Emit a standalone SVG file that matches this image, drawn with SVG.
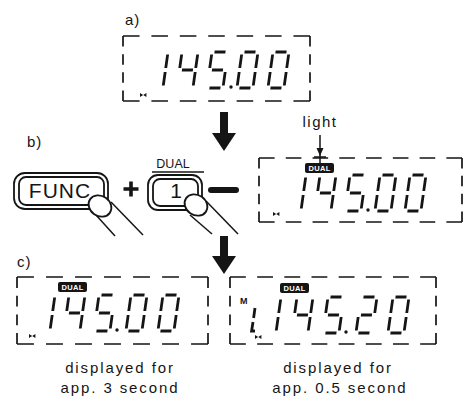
<svg xmlns="http://www.w3.org/2000/svg" xmlns:xlink="http://www.w3.org/1999/xlink" width="467" height="399" viewBox="0 0 467 399">
<style>
.bg{fill:#fff}
.dash{fill:none;stroke:#151515;stroke-width:1.7;stroke-dasharray:1.4 1}
.seg{fill:none;stroke:#151515;stroke-width:2.8;stroke-linecap:butt}
.lbl{font-family:"Liberation Sans",Arial,sans-serif;fill:#151515}
.btn{fill:#fff;stroke:#151515;stroke-width:1.8}
.badge{fill:#151515}
.badget{font-family:"Liberation Sans",Arial,sans-serif;font-size:7.5px;font-weight:bold;fill:#fff;text-anchor:middle;letter-spacing:0.3px}
.ink{fill:#151515}
.ln{stroke:#151515;stroke-width:1.5;fill:none}
.plus{stroke:#151515;stroke-width:3.6;fill:none}
</style>
<defs>
<path id="d0" class="seg" d="M2.5,0H13.5M16,2.5V16M16,20V33.5M2.5,36H13.5M0,20V33.5M0,2.5V16"/>
<path id="d1" class="seg" d="M16,2.5V16M16,20V33.5"/>
<path id="d2" class="seg" d="M2.5,0H13.5M16,2.5V16M2.5,18H13.5M0,20V33.5M2.5,36H13.5"/>
<path id="d4" class="seg" d="M0,2.5V16M2.5,18H13.5M16,2.5V16M16,20V33.5"/>
<path id="d5" class="seg" d="M2.5,0H13.5M0,2.5V16M2.5,18H13.5M16,20V33.5M2.5,36H13.5"/>
<path id="ico" class="ink" d="M0,0L0,4L3.2,2ZM6.4,0L6.4,4L3.2,2Z"/>
</defs>
<rect class="bg" x="0" y="0" width="467" height="399"/>

<text class="lbl" x="125" y="25" font-size="15" letter-spacing="1">a)</text>
<text class="lbl" x="27" y="147" font-size="15" letter-spacing="1">b)</text>
<text class="lbl" x="17" y="267" font-size="15" letter-spacing="1">c)</text>

<g id="display-a">
<path class="dash" pathLength="15.8" d="M123,36H310"/>
<path class="dash" pathLength="15.8" d="M123,101H310"/>
<path class="dash" pathLength="8.6" d="M123,36V101"/>
<path class="dash" pathLength="8.6" d="M310,36V101"/>
<use xlink:href="#d1" transform="translate(152,52) skewX(-8)"/>
<use xlink:href="#d4" transform="translate(182,52) skewX(-8)"/>
<use xlink:href="#d5" transform="translate(212,52) skewX(-8)"/>
<circle class="ink" cx="231" cy="87" r="1.7"/>
<use xlink:href="#d0" transform="translate(242,52) skewX(-8)"/>
<use xlink:href="#d0" transform="translate(273,52) skewX(-8)"/>
<use xlink:href="#ico" x="140" y="93"/>
</g>

<g id="btn-func">
<rect class="btn" x="14" y="173" width="94" height="36" rx="11"/>
<rect class="btn" x="19" y="177" width="85" height="28" rx="7"/>
<text class="lbl" x="60" y="198" font-size="21" text-anchor="middle" letter-spacing="1">FUNC</text>
<line class="ln" x1="96" y1="215" x2="115" y2="236"/>
<line class="ln" x1="111" y1="202" x2="143" y2="235"/>
<ellipse class="btn" cx="100" cy="206" rx="12" ry="10" transform="rotate(35 100 206)"/>
</g>

<g id="btn-1">
<text class="lbl" x="173" y="168" font-size="12.5" text-anchor="middle">DUAL</text>
<line class="ln" x1="152" y1="172" x2="204" y2="172"/>
<rect class="btn" x="148" y="175" width="54" height="35" rx="10"/>
<rect class="btn" x="153" y="179" width="45" height="27" rx="7"/>
<text class="lbl" x="176" y="198" font-size="21" text-anchor="middle">1</text>
<line class="ln" x1="190" y1="215" x2="212" y2="234"/>
<line class="ln" x1="206" y1="201" x2="238" y2="234"/>
<ellipse class="btn" cx="196" cy="205" rx="12" ry="10" transform="rotate(35 196 205)"/>
</g>

<g id="display-b">
<path class="dash" pathLength="18.2" d="M259,158H462"/>
<path class="dash" pathLength="18.2" d="M259,222H462"/>
<path class="dash" pathLength="8.6" d="M259,158V222"/>
<path class="dash" pathLength="8.6" d="M462,158V222"/>
<rect class="badge" x="305" y="163" width="29" height="10" rx="2"/>
<text class="badget" x="319.5" y="171">DUAL</text>
<use xlink:href="#d1" transform="translate(290,175) skewX(-8)"/>
<use xlink:href="#d4" transform="translate(320,175) skewX(-8)"/>
<use xlink:href="#d5" transform="translate(350,175) skewX(-8)"/>
<circle class="ink" cx="368" cy="210" r="1.7"/>
<use xlink:href="#d0" transform="translate(380,175) skewX(-8)"/>
<use xlink:href="#d0" transform="translate(410,175) skewX(-8)"/>
<use xlink:href="#ico" x="273" y="212"/>
</g>

<g id="light">
<text class="lbl" x="320" y="127" font-size="15" text-anchor="middle" letter-spacing="1.5">light</text>
</g>

<g id="display-c1">
<path class="dash" pathLength="15.8" d="M17,277H208"/>
<path class="dash" pathLength="15.8" d="M17,344H208"/>
<path class="dash" pathLength="8.6" d="M17,277V344"/>
<path class="dash" pathLength="8.6" d="M208,277V344"/>
<rect class="badge" x="58" y="282" width="29" height="10" rx="2"/>
<text class="badget" x="72.5" y="290">DUAL</text>
<use xlink:href="#d1" transform="translate(39,295) skewX(-8)"/>
<use xlink:href="#d4" transform="translate(69,295) skewX(-8)"/>
<use xlink:href="#d5" transform="translate(99,295) skewX(-8)"/>
<circle class="ink" cx="117" cy="330" r="1.7"/>
<use xlink:href="#d0" transform="translate(131,295) skewX(-8)"/>
<use xlink:href="#d0" transform="translate(163,295) skewX(-8)"/>
<use xlink:href="#ico" x="29" y="334"/>
<text class="lbl" x="120" y="373" font-size="15" text-anchor="middle" letter-spacing="1.9">displayed for</text>
<text class="lbl" x="120" y="393" font-size="15" text-anchor="middle" letter-spacing="1.9">app. 3 second</text>
</g>

<g id="display-c2">
<path class="dash" pathLength="18.2" d="M230,277H436"/>
<path class="dash" pathLength="18.2" d="M230,344H436"/>
<path class="dash" pathLength="8.6" d="M230,277V344"/>
<path class="dash" pathLength="8.6" d="M436,277V344"/>
<rect class="badge" x="280" y="283" width="29" height="10" rx="2"/>
<text class="badget" x="294.5" y="291">DUAL</text>
<text class="lbl" x="240" y="304" font-size="9" font-weight="bold">M</text>
<path class="seg" d="M255,308L253.6,318M253,322L251.6,331H255"/>
<use xlink:href="#d1" transform="translate(265,297) skewX(-8)"/>
<use xlink:href="#d4" transform="translate(297,297) skewX(-8)"/>
<use xlink:href="#d5" transform="translate(328,297) skewX(-8)"/>
<circle class="ink" cx="346" cy="332" r="1.7"/>
<use xlink:href="#d2" transform="translate(361,297) skewX(-8)"/>
<use xlink:href="#d0" transform="translate(393,297) skewX(-8)"/>
<use xlink:href="#ico" x="255" y="335"/>
<text class="lbl" x="338" y="373" font-size="15" text-anchor="middle" letter-spacing="1.9">displayed for</text>
<text class="lbl" x="340" y="393" font-size="15" text-anchor="middle" letter-spacing="1.9">app. 0.5 second</text>
</g>

<g id="connectors">
<polygon class="ink" points="220,112 228,112 228,133 236,133 224,151 212,133 220,133"/>
<polygon class="ink" points="220,236 228,236 228,256 236,256 224,274 212,256 220,256"/>
<path class="plus" d="M123.5,189H138.5M131,181.5V196.5"/>
<line x1="211" y1="190" x2="236" y2="190" stroke="#151515" stroke-width="6" stroke-linecap="round"/>
<line class="ln" x1="320" y1="135" x2="320" y2="163"/>
<polygon class="ink" points="316.5,148 323.5,148 320,156"/>
<line class="ln" x1="314" y1="157" x2="326" y2="157"/>
</g>
</svg>
